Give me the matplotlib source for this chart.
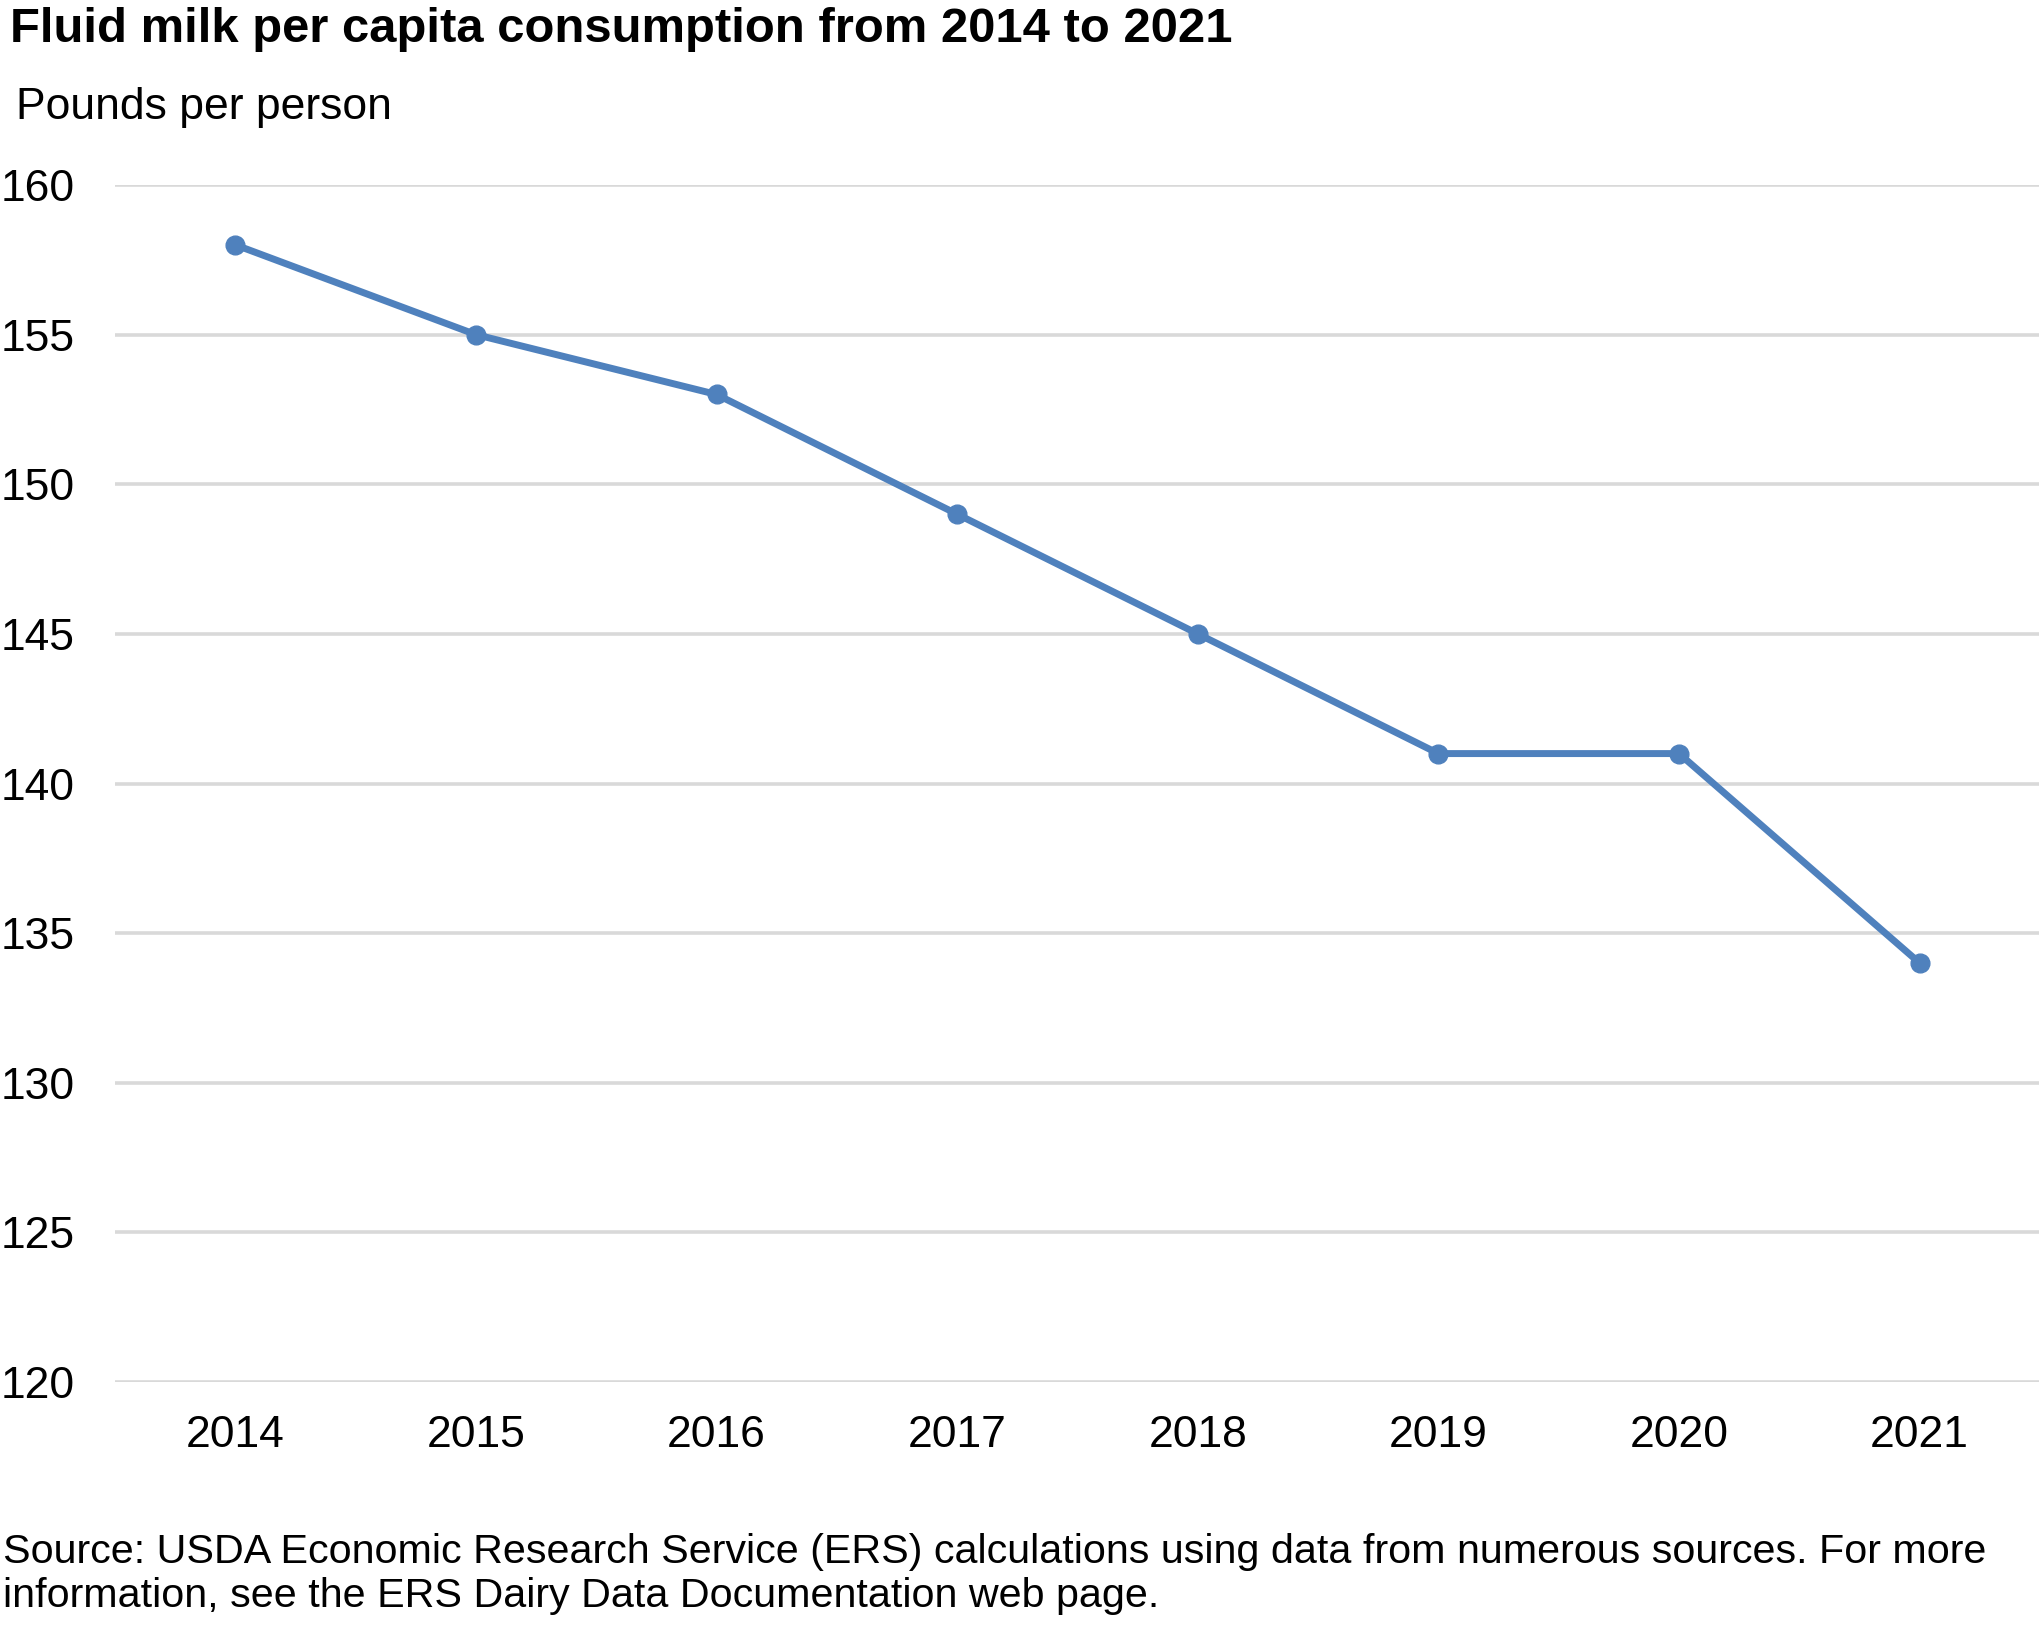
import matplotlib
matplotlib.use("Agg")
import matplotlib.pyplot as plt

years = ["2014", "2015", "2016", "2017", "2018", "2019", "2020", "2021"]
pounds = [158, 155, 153, 149, 145, 141, 141, 134]
yticks = [120, 125, 130, 135, 140, 145, 150, 155, 160]

plt.rcParams['font.family'] = ['Liberation Sans', 'DejaVu Sans']

fig = plt.figure(figsize=(20.4, 16.32), dpi=100)
ax = fig.add_axes([115 / 2040, 1 - 1382 / 1632, 1 - 115 / 2040, (1382 - 185) / 1632])

x = list(range(len(years)))
ax.plot(x, pounds, color='#4F81BD', lw=5, marker='o', markersize=13.5,
        solid_capstyle='round', zorder=3)

ax.set_xlim(-0.5, len(years) - 0.5)
ax.set_ylim(120, 160)
ax.set_yticks(yticks)
ax.set_xticks(x)
ax.set_xticklabels(years)
ax.yaxis.grid(True, color='#D9D9D9', lw=2.6)
ax.set_axisbelow(True)
for s in ax.spines.values():
    s.set_visible(False)
ax.tick_params(axis='both', length=0, labelsize=32)
ax.tick_params(axis='y', pad=29)
ax.tick_params(axis='x', pad=24)

fig.text(10 / 2040, 1 - 29 / 1632, "Fluid milk per capita consumption from 2014 to 2021",
         fontsize=35.3, fontweight='bold', va='center', ha='left')
fig.text(16 / 2040, 1 - 107 / 1632, "Pounds per person", fontsize=32, va='center', ha='left')
fig.text(3 / 2040, 1 - 1574 / 1632,
         "Source: USDA Economic Research Service (ERS) calculations using data from numerous sources. For more\n"
         "information, see the ERS Dairy Data Documentation web page.",
         fontsize=29.7, va='center', ha='left', linespacing=1.2)

fig.savefig("out.png", dpi=100, facecolor='white')
